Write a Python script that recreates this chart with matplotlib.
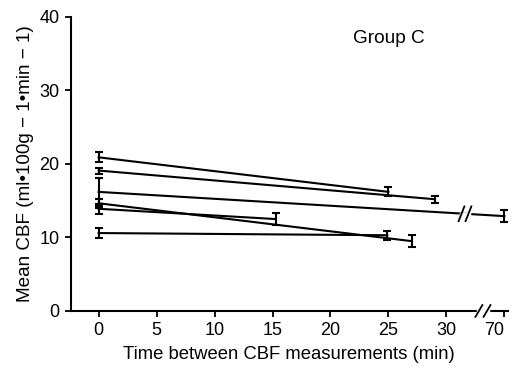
import numpy as np
import matplotlib
matplotlib.use('Agg')
import matplotlib.pyplot as plt

plt.rcParams['font.family'] = ['Liberation Sans', 'DejaVu Sans']
plt.rcParams['font.size'] = 13

# ================= data =================
# each subject: CBF at time 0 and at the second measurement
start_cbf = [20.9, 19.1, 16.2, 14.65, 13.9, 10.6]
start_err = [0.7, 0.4, 1.9, 0.6, 0.7, 0.7]
end_time = [25, 29, 70, 27, 15.3, 24.9]
end_cbf = [16.2, 15.2, 12.9, 9.5, 12.5, 10.3]
end_err = [0.6, 0.45, 0.85, 0.8, 0.8, 0.6]

tick_vals = [0, 5, 10, 15, 20, 25, 30, 70]
tick_labels = ['0', '5', '10', '15', '20', '25', '30', '70']


def xpos(t):
    # broken axis: 70 min is drawn where 35 would be
    return t if t <= 30 else 35


fig = plt.figure(figsize=(5.13, 3.68), dpi=100)
ax = fig.add_axes([0.138, 0.155, 0.852, 0.799])

for s, se, t, e, ee in zip(start_cbf, start_err, end_time, end_cbf, end_err):
    x0, x1 = 0, xpos(t)
    ax.plot([x0, x1], [s, e], color='black', lw=1.5, zorder=3)
    ax.errorbar([x0, x1], [s, e], yerr=[se, ee], fmt='none', ecolor='black',
                elinewidth=1.5, capsize=3, capthick=1.5, zorder=3)
    if t > 30:
        # break marks on the long line
        xb = 31.6
        yb = s + (e - s) * xb / x1
        ax.plot([xb - 0.35, xb + 0.35], [yb, yb], color='white', lw=2.5, zorder=3.5)
        for dx in (-0.3, 0.3):
            ax.plot([xb + dx - 0.25, xb + dx + 0.25], [yb - 1.0, yb + 1.0],
                    color='black', lw=1.3, zorder=4)

ax.set_xlim(-2.4, 35.3)
ax.set_ylim(0, 40)
ax.set_xticks([xpos(v) for v in tick_vals])
ax.set_xticklabels(tick_labels)
ax.set_yticks([0, 10, 20, 30, 40])

for side in ['top', 'right']:
    ax.spines[side].set_visible(False)
ax.spines['left'].set_linewidth(1.5)
ax.spines['bottom'].set_linewidth(1.5)
ax.tick_params(direction='out', length=4, width=1.3, pad=4, labelsize=13)
ax.get_xticklabels()[-1].set_ha('right')

# break on x axis
ax.plot([32.75, 33.6], [0, 0], color='white', lw=2.5, clip_on=False, zorder=4)
for dx in (-0.35, 0.35):
    ax.plot([33.15 + dx - 0.3, 33.15 + dx + 0.3], [-0.8, 0.8], color='black',
            lw=1.3, clip_on=False, zorder=5)

ax.text(25.0, 37.1, 'Group C', fontsize=13.7, ha='center', va='center')

ax.set_xlabel('Time between CBF measurements (min)', fontsize=13.3, labelpad=5)
ax.set_ylabel('Mean CBF (ml\u2022100g \u2212 1\u2022min \u2212 1)', fontsize=13.6, labelpad=4)

fig.savefig('out.png', dpi=100)
